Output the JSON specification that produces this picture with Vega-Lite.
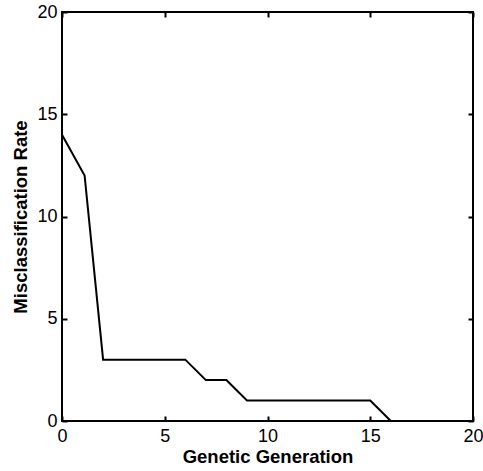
{
  "$schema": "https://vega.github.io/schema/vega-lite/v6.json",
  "width": 411,
  "height": 409,
  "autosize": {"type": "none"},
  "padding": {"left": 62, "top": 12, "right": 10, "bottom": 50},
  "background": "white",
  "config": {
    "view": {"stroke": "black", "strokeWidth": 2},
    "font": "Liberation Sans",
    "axis": {
      "grid": false,
      "domain": false,
      "tickColor": "black",
      "tickWidth": 2,
      "tickSize": -5,
      "labelFlush": false,
      "labelColor": "black",
      "labelFont": "Liberation Sans",
      "labelFontSize": 18,
      "titleFont": "Liberation Sans",
      "titleFontSize": 18.5,
      "titleFontWeight": "bold",
      "titleColor": "black"
    }
  },
  "data": {
    "values": [
      {"generation": 0, "rate": 14},
      {"generation": 1.1, "rate": 12},
      {"generation": 2, "rate": 3},
      {"generation": 6, "rate": 3},
      {"generation": 7, "rate": 2},
      {"generation": 8, "rate": 2},
      {"generation": 9, "rate": 1},
      {"generation": 15, "rate": 1},
      {"generation": 16, "rate": 0}
    ]
  },
  "layer": [
    {
      "mark": {"type": "line", "color": "black", "strokeWidth": 2},
      "encoding": {
        "x": {
          "field": "generation",
          "type": "quantitative",
          "scale": {"domain": [0, 20], "nice": false},
          "axis": {"values": [0, 5, 10, 15, 20], "title": "Genetic Generation", "labelPadding": 11, "titlePadding": 2}
        },
        "y": {
          "field": "rate",
          "type": "quantitative",
          "scale": {"domain": [0, 20], "nice": false},
          "axis": {"values": [0, 5, 10, 15, 20], "title": "Misclassification Rate", "labelPadding": 10, "titlePadding": 6}
        }
      }
    },
    {
      "mark": {"type": "line", "opacity": 0},
      "encoding": {
        "x": {
          "field": "generation",
          "type": "quantitative",
          "scale": {"domain": [0, 20], "nice": false},
          "axis": {"orient": "top", "values": [0, 5, 10, 15, 20], "labels": false, "title": null}
        },
        "y": {
          "field": "rate",
          "type": "quantitative",
          "scale": {"domain": [0, 20], "nice": false},
          "axis": {"orient": "right", "values": [0, 5, 10, 15, 20], "labels": false, "title": null}
        }
      }
    }
  ],
  "resolve": {"axis": {"x": "independent", "y": "independent"}}
}
